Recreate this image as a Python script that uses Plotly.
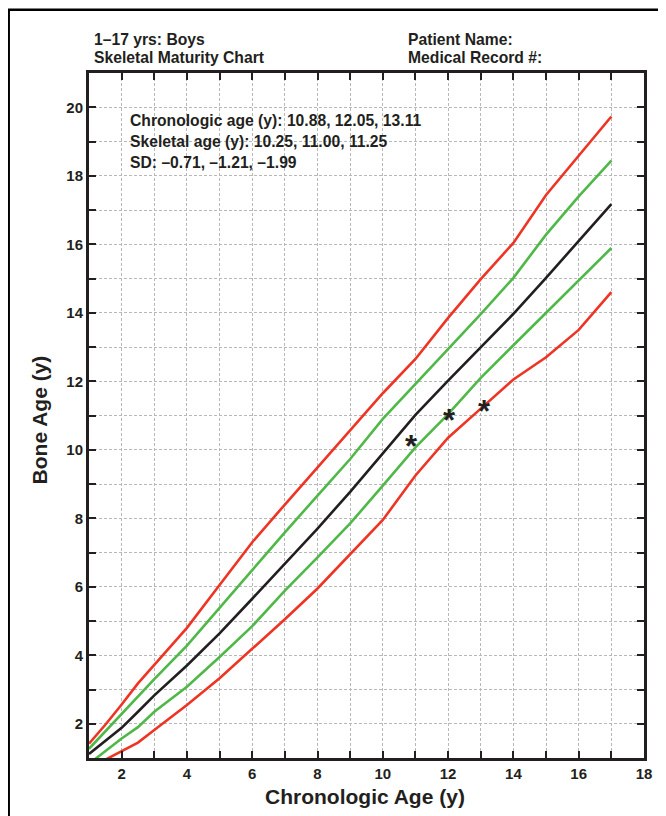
import plotly.graph_objects as go

# Data
ages = [1, 1.5, 2, 2.5, 3, 4, 5, 6, 7, 8, 9, 10, 11, 12, 13, 14, 15, 16, 17]
plus2sd = [1.42, 1.97, 2.56, 3.18, 3.72, 4.8, 6.05, 7.3, 8.4, 9.48, 10.55, 11.65, 12.65, 13.85, 14.98, 16.04, 17.44, 18.6, 19.73]
plus1sd = [1.27, 1.78, 2.27, 2.78, 3.3, 4.28, 5.38, 6.51, 7.59, 8.66, 9.73, 10.9, 11.92, 12.95, 13.96, 15.02, 16.28, 17.4, 18.44]
mean = [1.12, 1.5, 1.88, 2.35, 2.83, 3.7, 4.64, 5.65, 6.67, 7.7, 8.77, 9.9, 11.02, 12.02, 12.98, 13.97, 15.02, 16.08, 17.17]
minus1sd = [0.83, 1.2, 1.57, 1.9, 2.35, 3.08, 3.95, 4.85, 5.89, 6.86, 7.85, 8.95, 10.07, 11.04, 12.1, 13.05, 14.0, 14.97, 15.89]
minus2sd = [0.7, 0.95, 1.2, 1.45, 1.82, 2.55, 3.33, 4.19, 5.05, 5.95, 6.95, 7.95, 9.25, 10.35, 11.2, 12.05, 12.7, 13.5, 14.6]

patient_chrono = [10.88, 12.05, 13.11]
patient_skeletal = [10.25, 11.00, 11.25]
patient_sd = ["–0.71", "–1.21", "–1.99"]

x_ticks = list(range(1, 19))
x_labels = [str(v) if v % 2 == 0 else "" for v in x_ticks]
y_ticks = list(range(1, 22))
y_labels = [str(v) if v % 2 == 0 and v <= 20 else "" for v in y_ticks]

RED = "#ee3424"
GREEN = "#50b848"
BLACK = "#231f20"
FONT = "Liberation Sans"

# page has an 8px body margin; figure is placed at (8, 8)
OFF = 8
W, H = 666 - OFF, 816 - OFF

fig = go.Figure()
series = [
    (plus2sd, RED),
    (plus1sd, GREEN),
    (mean, BLACK),
    (minus1sd, GREEN),
    (minus2sd, RED),
]
for vals, col in series:
    fig.add_trace(go.Scatter(x=ages, y=vals, mode="lines",
                             line=dict(color=col, width=2.6),
                             showlegend=False, hoverinfo="skip"))

axis_common = dict(
    showline=True, linecolor=BLACK, linewidth=3, mirror="ticks",
    ticks="inside", ticklen=7, tickwidth=2, tickcolor=BLACK,
    showgrid=True, gridcolor="#b8b8b8", gridwidth=1, griddash="3px,2px",
    zeroline=False,
    tickfont=dict(family=FONT, size=15, color=BLACK, weight="bold"),
)
fig.update_xaxes(range=[1, 18], tickmode="array", tickvals=x_ticks, ticktext=x_labels, **axis_common)
fig.update_yaxes(range=[1, 21], tickmode="array", tickvals=y_ticks, ticktext=y_labels, **axis_common)

# page-pixel -> paper coordinates (plot area spans page x 89.3..644.3, y 73.3..758.3)
def px_x(p):
    return (p - 89.3) / 555.0

def px_y(p):
    return (758.3 - p) / 685.0

annos = []
tf = dict(family=FONT, size=15.7, color=BLACK, weight="bold")
annos.append(dict(text="1–17 yrs: Boys", x=px_x(92), y=px_y(40), xanchor="left", yanchor="middle", font=tf))
annos.append(dict(text="Skeletal Maturity Chart", x=px_x(92), y=px_y(58), xanchor="left", yanchor="middle", font=tf))
annos.append(dict(text="Patient Name:", x=px_x(406), y=px_y(40), xanchor="left", yanchor="middle", font=tf))
annos.append(dict(text="Medical Record #:", x=px_x(406), y=px_y(58), xanchor="left", yanchor="middle", font=tf))

lines = [
    "Chronologic age (y): " + ", ".join(f"{v:.2f}" for v in patient_chrono),
    "Skeletal age (y): " + ", ".join(f"{v:.2f}" for v in patient_skeletal),
    "SD: " + ", ".join(patient_sd),
]
for i, t in enumerate(lines):
    annos.append(dict(text=t, x=px_x(128), y=px_y(120.7 + 21 * i), xanchor="left", yanchor="middle", font=tf))

annos.append(dict(text="Chronologic Age (y)", x=px_x(365.5), y=px_y(797), xanchor="center", yanchor="middle",
                  font=dict(family=FONT, size=21, color=BLACK, weight="bold")))
annos.append(dict(text="Bone Age (y)", x=px_x(40), y=px_y(420), xanchor="center", yanchor="middle", textangle=-90,
                  font=dict(family=FONT, size=21, color=BLACK, weight="bold")))
for a in annos:
    a.update(xref="paper", yref="paper", showarrow=False)

# patient asterisks
for cx, sy in zip(patient_chrono, patient_skeletal):
    annos.append(dict(text="*", x=cx, y=sy, xref="x", yref="y", showarrow=False,
                      xanchor="center", yanchor="middle", yshift=-5,
                      font=dict(family=FONT, size=31, color=BLACK, weight="bold")))

fig.update_layout(
    annotations=annos,
    width=W, height=H,
    margin=dict(l=89.3 - OFF, r=666 - 644.3, t=73.3 - OFF, b=816 - 758.3),
    paper_bgcolor="white", plot_bgcolor="white",
    font=dict(family=FONT, color=BLACK),
    shapes=[dict(type="rect", xref="paper", yref="paper",
                 x0=px_x(9), y0=px_y(830), x1=px_x(700), y1=px_y(10),
                 line=dict(color="black", width=2.5), layer="above")],
)

fig.write_html("out.html")
